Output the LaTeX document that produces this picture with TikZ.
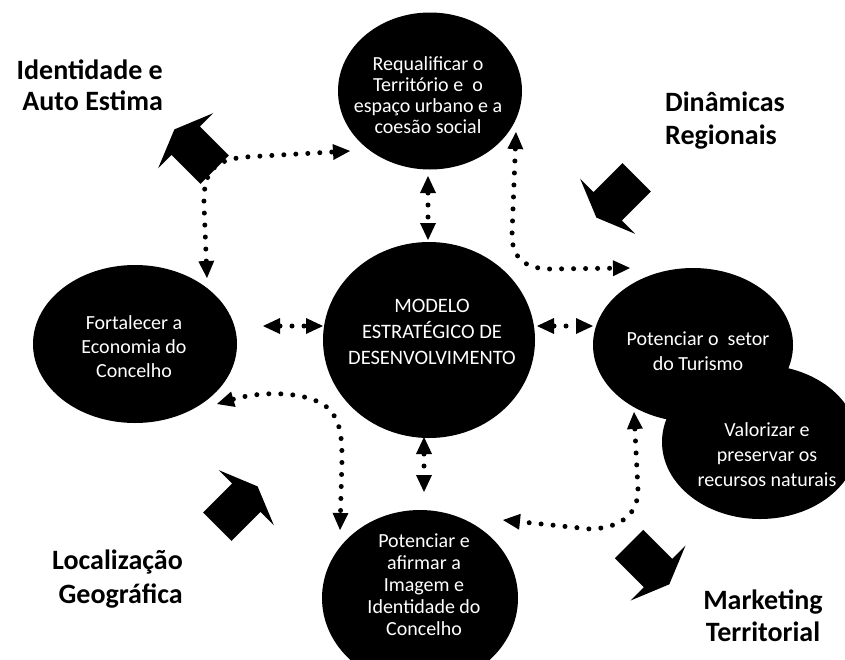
\documentclass[tikz,border=0pt]{standalone}
\usepackage{fontspec}
\setmainfont{Carlito}
\usetikzlibrary{arrows.meta,shapes.geometric}
\tikzset{
  blob/.style={ellipse, fill=black, inner sep=0pt},
  ctext/.style={text=white, align=center, inner sep=0pt},
  lbl/.style={inner sep=0pt, font=\bfseries\fontsize{28}{31}\selectfont},
  dotline/.style={line width=5pt, line cap=round, dash pattern=on 0pt off 12pt,
    >={Triangle[length=17pt,width=16pt,line width=0pt]}, <->},
  blockarrow/.style={fill=black}
}
\newcommand\myblockarrow[2]{%
  \begin{scope}[shift={#1}, rotate=#2]
    \fill[blockarrow] (0,-20) -- (41,-20) -- (41,-39) -- (57,0) -- (41,39) -- (41,20) -- (0,20) -- cycle;
  \end{scope}}
\begin{document}
\begin{tikzpicture}[x=1pt,y=-1pt]
\useasboundingbox (0,0) rectangle (845,659);
% circles
\node[blob, minimum width=184pt, minimum height=157pt] (top) at (430,91) {};
\node[blob, minimum width=212pt, minimum height=196pt] (mid) at (429,340) {};
\node[blob, minimum width=204pt, minimum height=158pt] (left) at (135,344) {};
\node[blob, minimum width=200pt, minimum height=154pt] (tur) at (693,345) {};
\node[blob, minimum width=196pt, minimum height=154pt] (val) at (760,442) {};
\node[blob, minimum width=196pt, minimum height=176pt] (bot) at (420,598) {};
% circle texts
\node[ctext, font=\fontsize{20}{21}\selectfont] (ttop) at (428,95) {Requalificar o\\Território e \ o\\espaço urbano e a\\coesão social};
\node[ctext, font=\fontsize{20.5}{26}\selectfont] (tmid) at (432,332) {MODELO\\ESTRATÉGICO DE\\DESENVOLVIMENTO};
\node[ctext, font=\fontsize{20}{24}\selectfont] (tleft) at (134,347) {Fortalecer a\\Economia do\\Concelho};
\node[ctext, font=\fontsize{20}{25}\selectfont] (ttur) at (698,351) {Potenciar o \ setor\\do Turismo};
\node[ctext, font=\fontsize{20}{25}\selectfont] (tval) at (767,455) {Valorizar e\\preservar os\\recursos naturais};
\node[ctext, font=\fontsize{20}{22}\selectfont] (tbot) at (424,585) {Potenciar e\\afirmar a\\Imagem e\\Identidade do\\Concelho};
% connector end points
\coordinate (topS) at (428,176);
\coordinate (midN) at (428,240);
\coordinate (midS) at (424,437);
\coordinate (botN) at (424,492);
\coordinate (leftE) at (263,326);
\coordinate (midW) at (323,326);
\coordinate (midE) at (537,326);
\coordinate (turW) at (593,326);
\coordinate (topW) at (350,151);
\coordinate (leftN) at (207,278);
\coordinate (topSE) at (516,132);
\coordinate (turNW) at (630,268);
\coordinate (leftSE) at (217,404);
\coordinate (botNW) at (340,530);
\coordinate (turSW) at (634,412);
\coordinate (botNE) at (503,520);
% connectors
\draw[dotline] (topS) -- (midN);
\draw[dotline] (midS) -- (botN);
\draw[dotline] (leftE) -- (midW);
\draw[dotline] (midE) -- (turW);
\draw[dotline] (leftN) -- (204,205) .. controls (203,170) and (215,160) .. (245,157) -- (topW);
\draw[dotline] (topSE) -- (512,235) .. controls (512,258) and (525,268) .. (548,269) -- (turNW);
\draw[dotline] (leftSE) .. controls (265,390) and (310,392) .. (328,408) .. controls (340,420) and (342,435) .. (342,460) -- (botNW);
\draw[dotline] (turSW) -- (638,490) .. controls (638,515) and (620,528) .. (590,529) -- (botNE);
% block arrows
\myblockarrow{(214.7,169.7)}{135}
\myblockarrow{(636.7,177.3)}{-135}
\myblockarrow{(217.3,526.7)}{45}
\myblockarrow{(629,544)}{-45}
% labels
\node[lbl, align=right, anchor=east] (lid) at (163,85) {Identidade e\\Auto Estima};
\node[lbl, align=left, anchor=west, font=\bfseries\fontsize{28}{33}\selectfont] (ldin) at (665,121) {Dinâmicas\\Regionais};
\node[lbl, align=right, anchor=east, font=\bfseries\fontsize{28}{34}\selectfont] (lloc) at (183,579) {Localização\\Geográfica};
\node[lbl, align=center, font=\bfseries\fontsize{28}{32}\selectfont] (lmkt) at (763,616) {Marketing\\Territorial};
\end{tikzpicture}
\end{document}
